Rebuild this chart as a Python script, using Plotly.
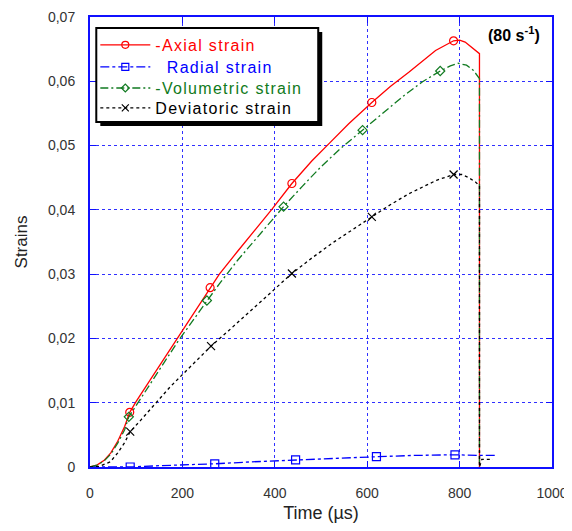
import plotly.graph_objects as go

# Axial strain (red)
axial_t = [0, 15, 30, 45, 60, 75, 86, 100, 130, 160, 190, 220, 260, 280, 320, 360, 394, 437,
           480, 520, 560, 610, 650, 690, 715, 748, 787, 800, 812, 828, 843, 843]
axial_e = [0, 0.0003, 0.0010, 0.0022, 0.0040, 0.0063, 0.0085, 0.0102, 0.0135, 0.0168, 0.0200,
           0.0233, 0.0279, 0.0300, 0.0336, 0.0371, 0.0401, 0.0441, 0.0476, 0.0505, 0.0534, 0.0567,
           0.0592, 0.0614, 0.0629, 0.0648, 0.0663, 0.0664, 0.0661, 0.0652, 0.0643, 0]
axial_mt = [86, 260, 437, 610, 787]
axial_me = [0.0085, 0.0279, 0.0441, 0.0567, 0.0663]

# Radial strain (blue)
radial_t = [0, 40, 87, 150, 200, 270, 350, 445, 530, 620, 700, 790, 843, 882]
radial_e = [0, 0, 0.0000, 0.0002, 0.0003, 0.0005, 0.0008, 0.0011, 0.0014, 0.0016, 0.0018,
            0.0019, 0.0018, 0.0018]
radial_mt = [87, 270, 445, 620, 790]
radial_me = [0.0, 0.0005, 0.0011, 0.0016, 0.0019]

# Volumetric strain (green)
vol_t = [0, 15, 30, 45, 60, 75, 84, 100, 130, 160, 190, 220, 253, 280, 320, 360, 419, 460,
         500, 540, 590, 640, 680, 719, 758, 780, 797, 815, 830, 843, 843]
vol_e = [0, 0.0003, 0.0009, 0.0020, 0.0037, 0.0058, 0.0078, 0.0096, 0.0128, 0.0162, 0.0195,
         0.0225, 0.0259, 0.0285, 0.0322, 0.0356, 0.0405, 0.0437, 0.0467, 0.0494, 0.0524, 0.0555,
         0.0578, 0.0599, 0.0616, 0.0624, 0.0628, 0.0625, 0.0617, 0.0604, 0]
vol_mt = [84, 253, 419, 590, 758]
vol_me = [0.0078, 0.0259, 0.0405, 0.0524, 0.0616]

# Deviatoric strain (black)
dev_t = [0, 20, 44, 60, 75, 87, 110, 140, 174, 220, 262, 300, 350, 400, 437, 480, 530, 570,
         610, 650, 690, 720, 750, 787, 805, 820, 835, 843, 843, 848, 872]
dev_e = [0, 0.0001, 0.0008, 0.0022, 0.0038, 0.0055, 0.0073, 0.0097, 0.0125, 0.0158, 0.0188,
         0.0212, 0.0245, 0.0277, 0.0301, 0.0325, 0.0351, 0.0370, 0.0389, 0.0408, 0.0425, 0.0436,
         0.0446, 0.0455, 0.0455, 0.0450, 0.0443, 0.0437, 0, 0.0012, 0.0012]
dev_mt = [87, 262, 437, 610, 787]
dev_me = [0.0055, 0.0188, 0.0301, 0.0389, 0.0455]

x_ticks = [0, 200, 400, 600, 800, 1000]
y_ticks = [0, 0.01, 0.02, 0.03, 0.04, 0.05, 0.06, 0.07]
y_ticktext = ["0", "0,01", "0,02", "0,03", "0,04", "0,05", "0,06", "0,07"]

series = [
    ("-Axial strain", "#ff0000", "solid", "circle-open", 8, axial_t, axial_e, axial_mt, axial_me),
    ("\u00a0\u00a0Radial strain", "#0000ff", "dashdot", "square-open", 8,
     radial_t, radial_e, radial_mt, radial_me),
    ("-Volumetric strain", "#107a20", "8px,3px,2px,3px", "diamond-open", 7,
     vol_t, vol_e, vol_mt, vol_me),
    ("Deviatoric strain", "#000000", "3px,3px", "x-thin-open", 8, dev_t, dev_e, dev_mt, dev_me),
]
legend_ids = ["legend", "legend2", "legend3", "legend4"]
legend_rows = [0.938, 0.889, 0.842, 0.798]

fig = go.Figure()

for (name, color, dash, symbol, size, t, e, mt, me), lid in zip(series, legend_ids):
    # the curve itself
    fig.add_trace(go.Scatter(x=t, y=e, mode="lines", showlegend=False, hoverinfo="skip",
                             line=dict(color=color, width=1.3, dash=dash)))
    # the sparse markers
    fig.add_trace(go.Scatter(x=mt, y=me, mode="markers", showlegend=False,
                             marker=dict(symbol=symbol, size=size, color=color,
                                         line=dict(color=color, width=1.2))))
    # legend entry only
    fig.add_trace(go.Scatter(x=[None], y=[None], mode="lines+markers", legend=lid,
                             name=f"<span style='color:{color};letter-spacing:1.3px'>{name}</span>",
                             line=dict(color=color, width=1.3, dash=dash),
                             marker=dict(symbol=symbol, size=size - 1, color=color,
                                         line=dict(color=color, width=1.2))))

# legend frame with its drop shadow
fig.add_shape(type="rect", xref="paper", yref="paper",
              x0=0.0223, x1=0.5027, y0=0.7578, y1=0.9667,
              fillcolor="black", line_width=0, layer="above")
fig.add_shape(type="rect", xref="paper", yref="paper",
              x0=0.0136, x1=0.494, y0=0.7667, y1=0.9756,
              fillcolor="white", line=dict(color="black", width=2), layer="above")

fig.add_annotation(x=0.918, y=0.962, xref="paper", yref="paper", showarrow=False,
                   xanchor="center", yanchor="middle",
                   text="<b>(80 s<sup>-1</sup>)</b>",
                   font=dict(family="Liberation Sans, Arial", size=16, color="black"))

axis_common = dict(
    automargin=False,
    showline=True, linecolor="#1010ff", linewidth=2, mirror="ticks",
    ticks="inside", tickcolor="#1010ff", ticklen=6, tickwidth=1,
    showgrid=True, gridcolor="#3030ff", griddash="dot", gridwidth=1,
    zeroline=False, ticklabeloverflow="allow",
    tickfont=dict(family="Liberation Sans, Arial", size=14, color="#333333"),
)

legend_common = dict(xanchor="left", yanchor="middle", bgcolor="rgba(0,0,0,0)",
                     borderwidth=0, itemwidth=50,
                     font=dict(family="Liberation Sans, Arial", size=16))

# page body keeps its 8px margin, so the figure is offset by 8px
fig.update_layout(
    width=564, height=515,
    margin=dict(l=82, r=20, t=9, b=56),
    paper_bgcolor="white", plot_bgcolor="white",
    font=dict(family="Liberation Sans, Arial", color="#222222"),
    xaxis=dict(range=[0, 1000], tickvals=x_ticks, ticklabelstandoff=12,
               title=dict(text="Time (µs)", font=dict(size=18, color="#222222"), standoff=12),
               **axis_common),
    yaxis=dict(range=[0, 0.07], tickvals=y_ticks, ticktext=y_ticktext, ticklabelstandoff=10,
               title=dict(text="Strains", font=dict(size=17, color="#222222"), standoff=16),
               **axis_common),
)
for lid, yrow in zip(legend_ids, legend_rows):
    fig.update_layout({lid: dict(x=0.0115, y=yrow, **legend_common)})

fig.write_html("out.html")
